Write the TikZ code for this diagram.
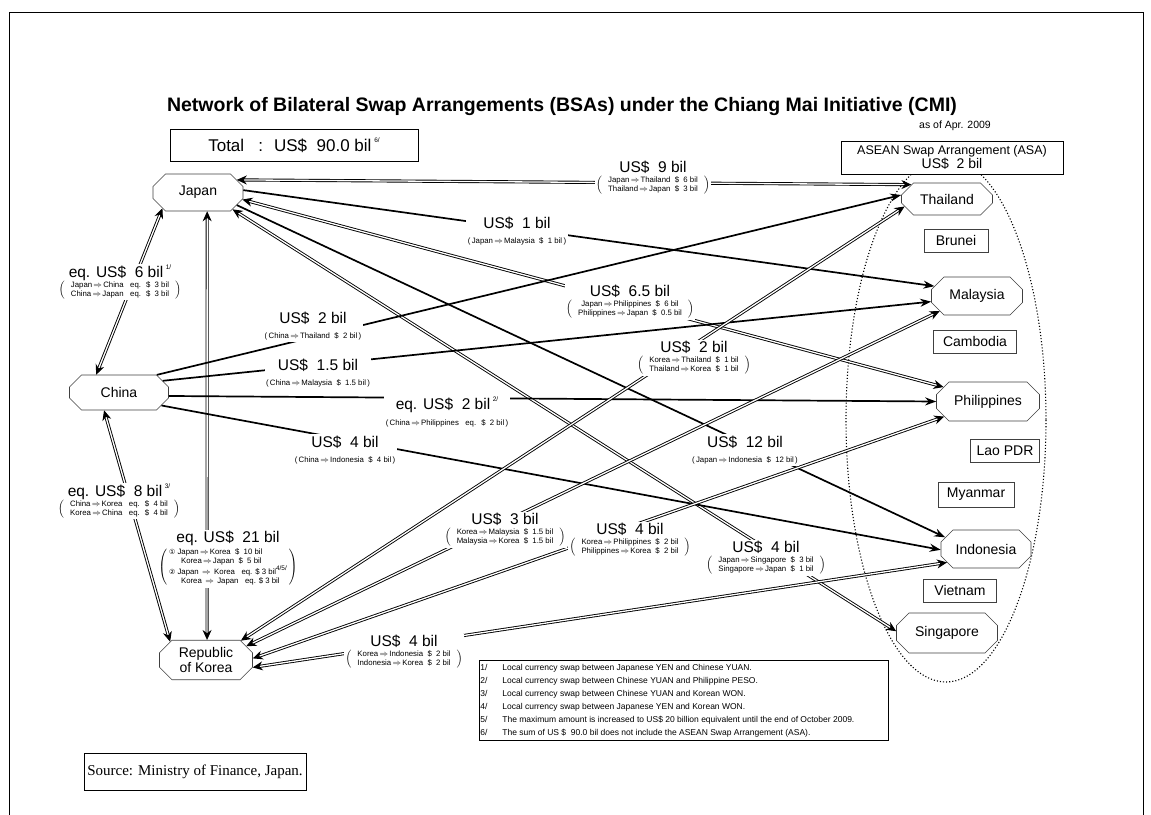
\documentclass[tikz,border=0pt]{standalone}
\usepackage{fontspec}
\setmainfont{Liberation Sans}
\newfontfamily\srcfont{Liberation Serif}
\newfontfamily\circfont{DejaVu Sans}
\usetikzlibrary{shapes.misc,arrows.meta,positioning}

\newcommand{\szmain}{\fontsize{15.5}{16.5}\selectfont}
\newcommand{\szsub}{\fontsize{7.8}{9}\selectfont}
\newcommand{\szctry}{\fontsize{14}{15.5}\selectfont}
\newcommand{\ra}{\,$\Rightarrow$\,}
\newcommand{\ftn}[1]{\raisebox{0.5em}{\fontsize{6.5}{7}\selectfont #1}}
\newcommand{\bil}[3]{#1\\[-2pt]{\szsub$\left(\hspace{6pt}\begin{tabular}{@{}c@{}}#2\\#3\end{tabular}\hspace{6pt}\right)$}}
\newcommand{\uni}[2]{#1\\[-1pt]{\szsub(\,#2\,)}}

\begin{document}
\begin{tikzpicture}[x=1pt,y=-1pt,
  ctry/.style={draw=black!75, line width=0.6pt, fill=white, chamfered rectangle, chamfered rectangle xsep=9pt, inner xsep=2pt, font=\szctry, align=center},
  asn/.style={draw=black!75, line width=0.6pt, fill=white, minimum height=23pt, inner xsep=3pt, font=\szctry},
  uniarr/.style={line width=1.7pt, -{Stealth[length=11pt,width=8pt]}},
  swaparr/.style={double, double distance=1.3pt, line width=0.9pt, {Stealth[length=10pt,width=9pt]}-{Stealth[length=10pt,width=9pt]}},
  amt/.style={fill=white, inner sep=1.5pt, align=center, font=\szmain}]
\useasboundingbox (0,0) rectangle (1151,814);
\draw[line width=1pt] (9,830) -- (9,12) -- (1143,12) -- (1143,830);

\node[font=\bfseries\fontsize{19.5}{21}\selectfont] (title) at (562,106) {Network of Bilateral Swap Arrangements (BSAs) under the Chiang Mai Initiative (CMI)};
\node[font=\fontsize{10.5}{12}\selectfont] (asof) at (955,126) {as of Apr. 2009};
\node[draw, line width=0.9pt, minimum width=248pt, minimum height=32pt, font=\fontsize{17}{18}\selectfont] (total) at (294,145) {Total \ \ : \ US\$ \ 90.0 bil\,\ftn{6/}};

\draw[dotted, line width=1.1pt] (946,420) ellipse [x radius=100, y radius=262];
\node[draw, line width=0.9pt, fill=white, minimum width=222pt, minimum height=33pt, inner sep=1pt, align=center] (asa) at (952,157.5) {{\fontsize{12.5}{13.5}\selectfont ASEAN Swap Arrangement (ASA)}\\{\fontsize{14}{15}\selectfont US\$ \ 2 bil}};

\node[ctry, minimum width=90pt, minimum height=37pt] (japan) at (198,192.5) {Japan};
\node[ctry, minimum width=99pt, minimum height=35pt] (china) at (119,392.5) {China};
\node[ctry, minimum width=93pt, minimum height=38pt] (korea) at (206,660) {Republic\\of Korea};
\node[ctry, minimum width=91pt, minimum height=32pt] (thailand) at (947,199) {Thailand};
\node[ctry, minimum width=91pt, minimum height=38pt] (malaysia) at (977,296) {Malaysia};
\node[ctry, minimum width=103pt, minimum height=39pt] (phil) at (988,401.5) {Philippines};
\node[ctry, minimum width=90pt, minimum height=38pt] (indo) at (986,549) {Indonesia};
\node[ctry, minimum width=101pt, minimum height=40pt] (sing) at (947,633) {Singapore};
\node[asn, minimum width=64pt] (brunei) at (956,240.5) {Brunei};
\node[asn, minimum width=83pt] (cambodia) at (975,341.5) {Cambodia};
\node[asn, minimum width=69pt] (lao) at (1005,450.5) {Lao PDR};
\node[asn, minimum width=76pt, minimum height=25pt] (myanmar) at (976,494.5) {Myanmar};
\node[asn, minimum width=73pt] (vietnam) at (960,590.5) {Vietnam};

\draw[swaparr] (japan.18) -- (thailand.158);
\draw[uniarr] (japan.3) -- (malaysia.167);
\draw[swaparr] (japan.-9) -- (phil.162);
\draw[uniarr] (japan.-18) -- (indo.164);
\draw[swaparr] (japan.-26) -- (sing.178);
\draw[swaparr] (japan.-64) -- (korea.87);
\draw[swaparr] (japan.204) -- (china.142);
\draw[uniarr] (china.25) -- (thailand.175);
\draw[uniarr] (china.15) -- (malaysia.187);
\draw[uniarr] (china.-4) -- (phil.180);
\draw[uniarr] (china.-17) -- (indo.181);
\draw[swaparr] (china.230) -- (korea.153);
\draw[swaparr] (korea.29) -- (thailand.190);
\draw[swaparr] (korea.19) -- (malaysia.202);
\draw[swaparr] (korea.2) -- (phil.199);
\draw[swaparr] (korea.-9) -- (indo.199);

\node[amt] (ljt) at (653,178) {\bil{US\$ \ 9 bil}{Japan\ra Thailand \ \$ \ 6 bil}{Thailand\ra Japan \ \$ \ 3 bil}};
\node[amt] (ljc) at (120,282) {\bil{eq. US\$ \ 6 bil\,\ftn{1/}}{Japan\ra China \ \ eq. \ \$ \ 3 bil}{China\ra Japan \ \ eq. \ \$ \ 3 bil}};
\node[amt] (lck) at (119,501) {\bil{eq. US\$ \ 8 bil\,\ftn{3/}}{China\ra Korea \ \ eq. \ \$ \ 4 bil}{Korea\ra China \ \ eq. \ \$ \ 4 bil}};
\node[amt] (ljk) at (228,559) {eq. US\$ \ 21 bil\\[1pt]{\szsub$\left(\hspace{2pt}\begin{tabular}{@{}l@{}}{\circfont\fontsize{7}{8}\selectfont①} Japan\ra Korea \ \$ \ 10 bil\\ \hspace{12pt}Korea\ra Japan \ \$ \ 5 bil\\ {\circfont\fontsize{7}{8}\selectfont②} Japan \ra\ Korea \ \ eq. \$ 3 bil\ftn{4/5/}\\ \hspace{12pt}Korea \ra\ Japan \ \ eq. \$ 3 bil\end{tabular}\hspace{2pt}\right)$}};
\node[amt] (ljm) at (517,231) {\uni{US\$ \ 1 bil}{Japan\ra Malaysia \ \$ \ 1 bil}};
\node[amt] (ljp) at (630,302) {\bil{US\$ \ 6.5 bil}{Japan\ra Philippines \ \$ \ 6 bil}{Philippines\ra Japan \ \$ \ 0.5 bil}};
\node[amt] (lct) at (313,326) {\uni{US\$ \ 2 bil}{China\ra Thailand \ \$ \ 2 bil}};
\node[amt] (lcm) at (318,373) {\uni{US\$ \ 1.5 bil}{China\ra Malaysia \ \$ \ 1.5 bil}};
\node[amt] (lkt) at (694,358) {\bil{US\$ \ 2 bil}{Korea\ra Thailand \ \$ \ 1 bil}{Thailand\ra Korea \ \$ \ 1 bil}};
\node[amt] (lcp) at (447,412) {\uni{eq. US\$ \ 2 bil\,\ftn{2/}}{China\ra Philippines \ \ eq. \ \$ \ 2 bil}};
\node[amt] (lci) at (345,450) {\uni{US\$ \ 4 bil}{China\ra Indonesia \ \$ \ 4 bil}};
\node[amt] (lji) at (745,450) {\uni{US\$ \ 12 bil}{Japan\ra Indonesia \ \$ \ 12 bil}};
\node[amt] (lkm) at (505,530) {\bil{US\$ \ 3 bil}{Korea\ra Malaysia \ \$ \ 1.5 bil}{Malaysia\ra Korea \ \$ \ 1.5 bil}};
\node[amt] (lkp) at (630,540) {\bil{US\$ \ 4 bil}{Korea\ra Philippines \ \$ \ 2 bil}{Philippines\ra Korea \ \$ \ 2 bil}};
\node[amt] (ljs) at (766,558) {\bil{US\$ \ 4 bil}{Japan\ra Singapore \ \$ \ 3 bil}{Singapore\ra Japan \ \$ \ 1 bil}};
\node[amt] (lki) at (404,652) {\bil{US\$ \ 4 bil}{Korea\ra Indonesia \ \$ \ 2 bil}{Indonesia\ra Korea \ \$ \ 2 bil}};

\node[draw, line width=0.8pt, anchor=north west, inner sep=1pt, font=\fontsize{8.5}{13}\selectfont] (notes) at (479,660) {\begin{tabular}{@{}p{22pt}@{}p{385pt}@{}}
1/ & Local currency swap between Japanese YEN and Chinese YUAN.\\
2/ & Local currency swap between Chinese YUAN and Philippine PESO.\\
3/ & Local currency swap between Chinese YUAN and Korean WON.\\
4/ & Local currency swap between Japanese YEN and Korean WON.\\
5/ & The maximum amount is increased to US\$ 20 billion equivalent until the end of October 2009.\\
6/ & The sum of US \$ \ 90.0 bil does not include the ASEAN Swap Arrangement (ASA).
\end{tabular}};
\node[draw, line width=0.8pt, minimum width=214pt, minimum height=37pt, font=\srcfont\fontsize{15}{16}\selectfont] (src) at (195,772) {Source: Ministry of Finance, Japan.};
\end{tikzpicture}
\end{document}
